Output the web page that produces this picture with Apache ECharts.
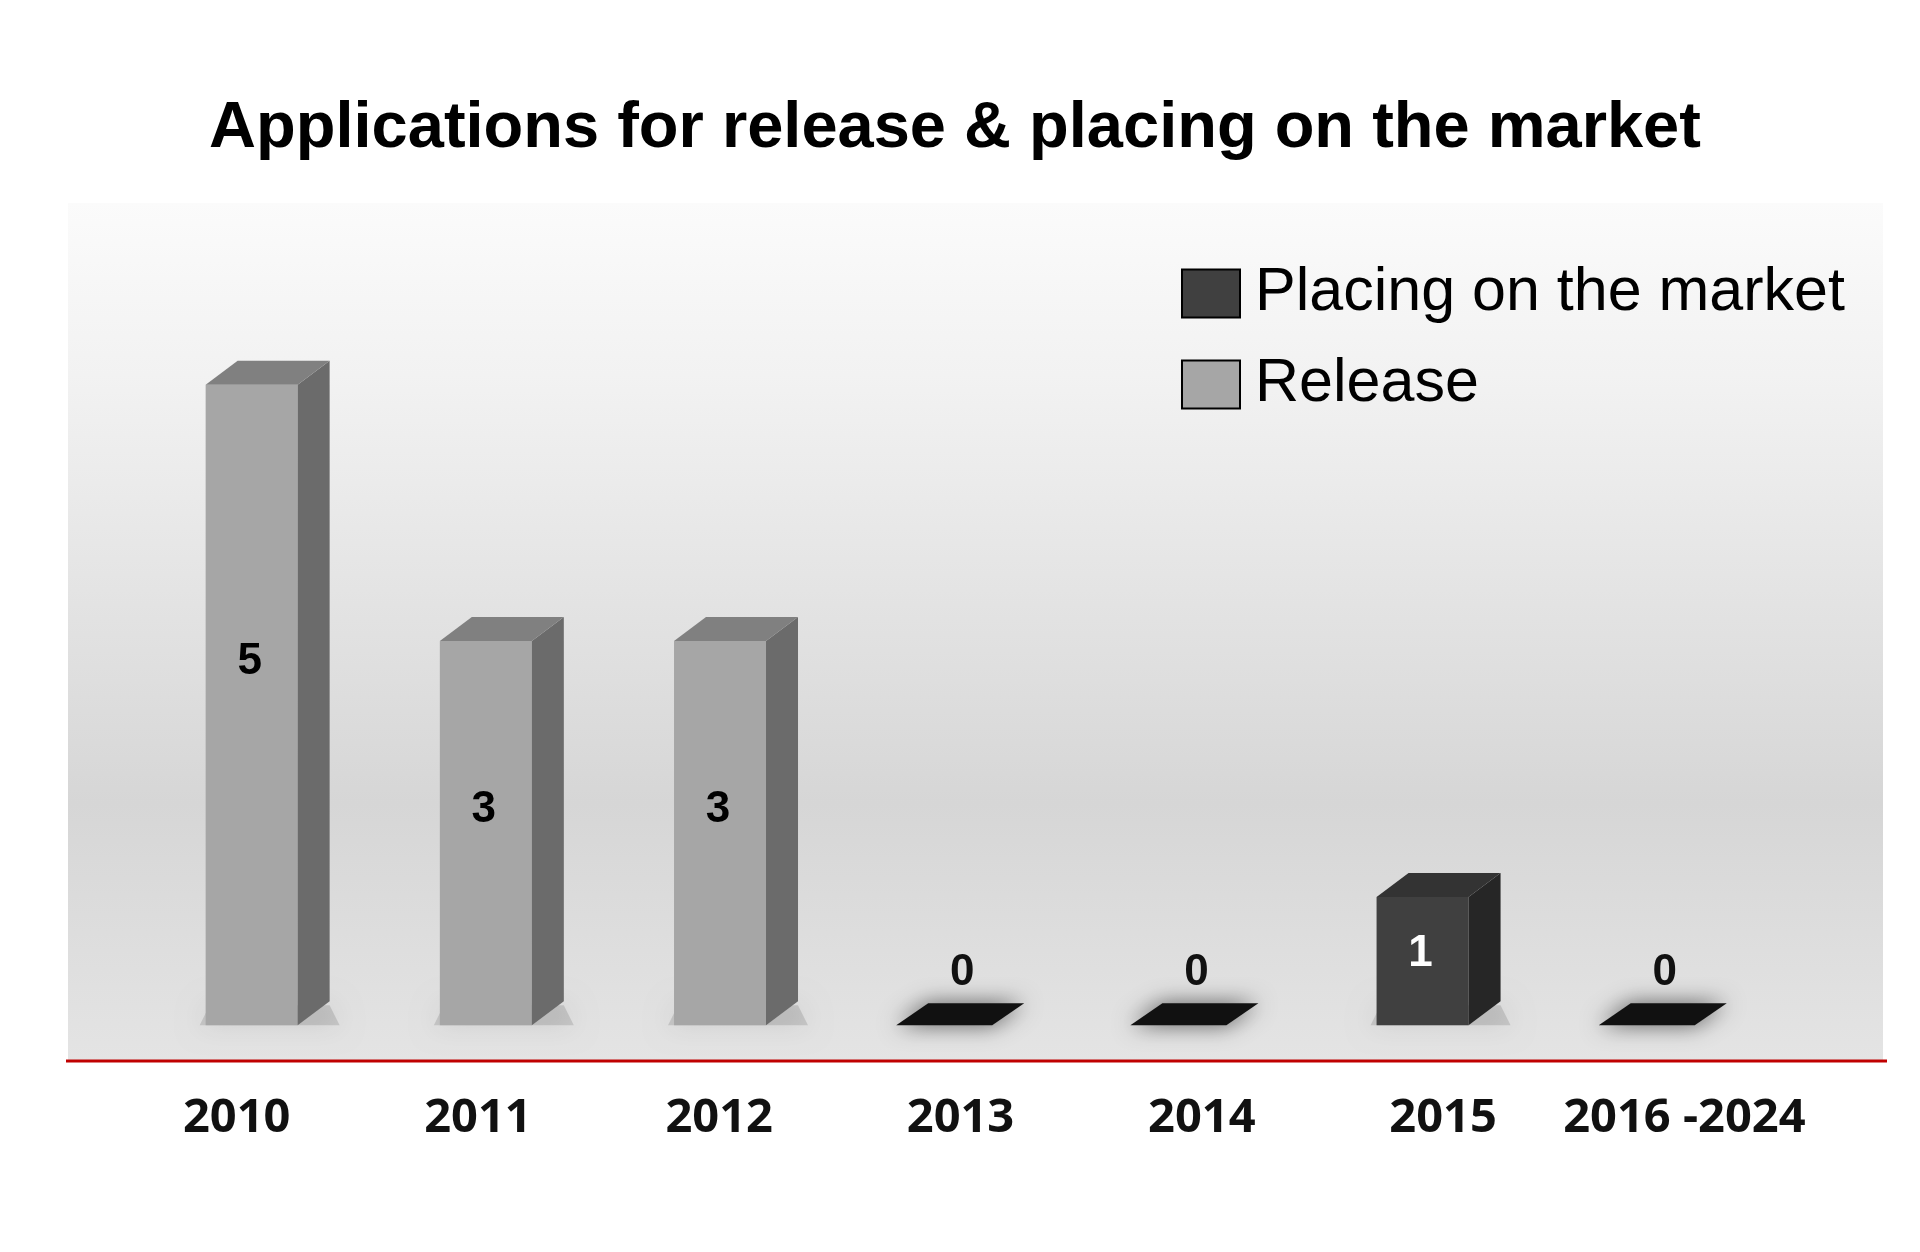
<!DOCTYPE html>
<html><head><meta charset="utf-8">
<script src="https://cdn.jsdelivr.net/npm/echarts@6/dist/echarts.min.js"></script>
<style>html,body{margin:0;background:#fff}#main{width:1920px;height:1252px}</style>
</head><body><div id="main"></div>
<script>
var years = ['2010', '2011', '2012', '2013', '2014', '2015', '2016 -2024'];
var release = [5, 3, 3, '-', '-', '-', '-'];
var placing = ['-', '-', '-', 0, 0, 1, 0];

var chart = echarts.init(document.getElementById('main'));

function box(front, side, top, txtColor) {
    return function (params, api) {
        var v = api.value(1);
        if (v === '-' || isNaN(v)) return null;
        var i = api.value(0);
        var base = api.coord([i, 0]);
        var tip = api.coord([i, v]);
        var cx = base[0] + 15 - 7.1 * i, w = 92, dx = 32, dy = 24;
        var x0 = cx - w / 2, x1 = cx + w / 2, yb = base[1], yt = tip[1];
        var kids = [];
        if (v === 0) {
            kids.push({type: 'polygon', shape: {points: [[x0 - 12, yb], [x1 - 8, yb], [x1 + 24, yb - dy + 2], [x0 + 20, yb - dy + 2]]},
                style: {fill: '#111', shadowBlur: 22, shadowColor: 'rgba(0,0,0,0.6)'}});
            kids.push({type: 'text', style: {text: '0', x: cx + 8, y: yb - 52, align: 'center', verticalAlign: 'middle',
                font: 'bold 44px "Liberation Sans", Arial', fill: '#111'}});
        } else {
            kids.push({type: 'polygon', shape: {points: [[x0 - 6, yb], [x1 + dx + 10, yb], [x1 + dx, yb - dy + 4], [x0 + 4, yb - dy + 4]]},
                style: {fill: 'rgba(0,0,0,0.12)', shadowBlur: 26, shadowColor: 'rgba(0,0,0,0.75)'}});
            kids.push({type: 'rect', shape: {x: x0, y: yt, width: w, height: yb - yt}, style: {fill: front}});
            kids.push({type: 'polygon', shape: {points: [[x1, yt], [x1 + dx, yt - dy], [x1 + dx, yb - dy], [x1, yb]]}, style: {fill: side}});
            kids.push({type: 'polygon', shape: {points: [[x0, yt], [x0 + dx, yt - dy], [x1 + dx, yt - dy], [x1, yt]]}, style: {fill: top}});
            kids.push({type: 'text', style: {text: String(v), x: cx - 2, y: v >= 5 ? 662 : yt + (yb - yt) * 0.44, align: 'center', verticalAlign: 'middle',
                font: 'bold 44px "Liberation Sans", Arial', fill: txtColor}});
        }
        return {type: 'group', children: kids};
    };
}

function pairs(arr) {
    return arr.map(function (v, i) { return [i, v]; });
}

var option = {
    animation: false,
    title: {
        text: 'Applications for release & placing on the market',
        left: 950, textAlign: 'center', top: 92,
        textStyle: {fontFamily: 'Liberation Sans', fontWeight: 'bold', fontSize: 65, color: '#000'}
    },
    graphic: [
        {type: 'rect', z: -10, shape: {x: 68, y: 203, width: 1815, height: 858},
            style: {fill: new echarts.graphic.LinearGradient(0, 0, 0, 1, [
                {offset: 0, color: '#fbfbfb'}, {offset: 0.2, color: '#f2f2f2'},
                {offset: 0.7, color: '#d6d6d6'}, {offset: 1, color: '#e4e4e4'}])}},
        {type: 'line', shape: {x1: 66, y1: 1061, x2: 1887, y2: 1061}, style: {stroke: '#c00000', lineWidth: 3}}
    ],
    legend: {
        left: 1176, top: 258, orient: 'vertical', itemWidth: 58, itemHeight: 48, itemGap: 30,
        textStyle: {fontFamily: 'Liberation Sans', fontSize: 61, color: '#000', padding: [0, 0, 0, 10]},
        data: [
            {name: 'Placing on the market', icon: 'rect', itemStyle: {color: '#404040', borderColor: '#000', borderWidth: 2}},
            {name: 'Release', icon: 'rect', itemStyle: {color: '#a6a6a6', borderColor: '#000', borderWidth: 2}}
        ]
    },
    grid: {left: 116, right: 115, top: 203, bottom: 191},
    xAxis: {
        type: 'category', data: years,
        axisLine: {show: false}, axisTick: {show: false},
        axisLabel: {margin: 34, fontFamily: 'Open Sans', fontWeight: 'bold', fontSize: 47, color: '#111', interval: 0}
    },
    yAxis: {type: 'value', min: -0.28, max: 6.42, show: false, splitLine: {show: false}},
    series: [
        {name: 'Placing on the market', type: 'custom', itemStyle: {color: '#404040'},
            renderItem: box('#404040', '#262626', '#333333', '#fff'), data: pairs(placing)},
        {name: 'Release', type: 'custom', itemStyle: {color: '#a6a6a6'},
            renderItem: box('#a6a6a6', '#6b6b6b', '#808080', '#000'), data: pairs(release)}
    ]
};
chart.setOption(option);
</script>
</body></html>
